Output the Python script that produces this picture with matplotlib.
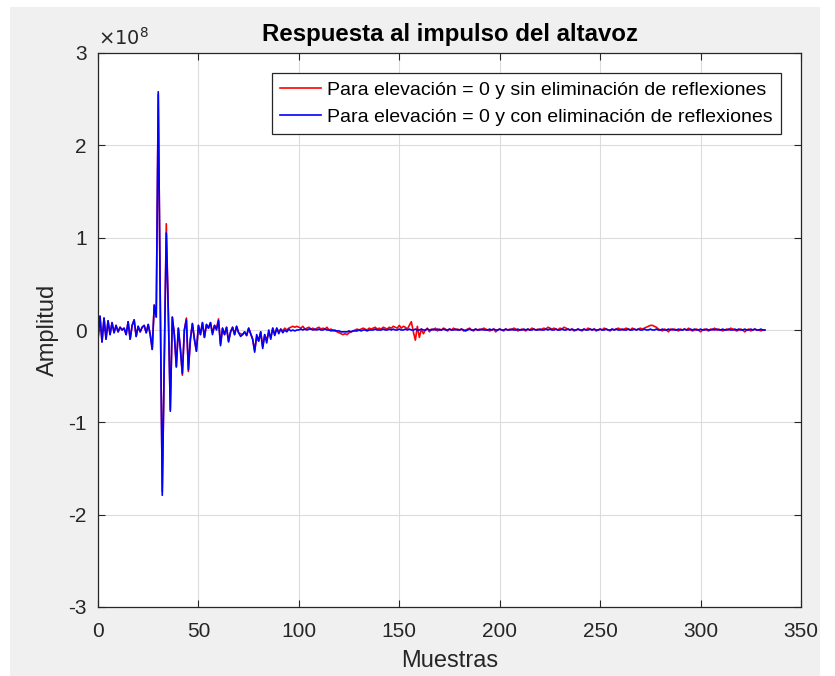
import matplotlib
matplotlib.use("Agg")
import matplotlib.pyplot as plt
import numpy as np
from matplotlib.ticker import FuncFormatter
from matplotlib.patches import Rectangle

plt.rcParams['font.family'] = ['Liberation Sans', 'DejaVu Sans']
plt.rcParams['axes.unicode_minus'] = False

# amplitudes in units of 1e6 (hundredths of 1e8), one value per sample
blue_vals = [
    -10, 15, -13, 13, -10, 10, -5, 8, -3, 5,
    -2, 3, 0, 2, -5, 9, -10, 5, 11, -7,
    4, -2, 3, 5, -3, 6, -5, -21, 27, 14,
    258, 30, -179, -30, 105, 20, -88, 14, -5, -40,
    2, -20, -47, 0, 11, -43, -10, 7, -10, -23,
    5, -5, 8, -8, 6, 2, 8, -5, 5, 0,
    10, -17, 2, -5, 3, -13, -2, 3, -5, 4,
    -3, -7, -5, -2, -6, 2, -4, -10, -24, -5,
    -12, -2, -20, -5, -14, 0, -10, 2, -6, 2,
    -4, 1, -3, 0, -2, 1, -1, 0, -1, 0,
    0, 1, 0, 1, 0, 1, 1, 0, 1, 0, 1, 0, 0, 1, 0, 0, -1, 0, -1, -1,
    -1, -2, -2, -2, -2, -1, -2, -1, -1, -1, 0, -1, 0, 0, -1, 0, 0, 0, 1, 0,
    0, 0, 1, 0, 0, 1, 0, 1, 0, 0, 1, 0, 0, 1, 0, 1, 0, 0, 1, 0,
    0, 1, 0, 0, 1, 0, 0, 1, 0, 1, 0, 0, 1, 0, 0, 1, 0, 0, 1, 0,
    0, 1, 0, -1, 0, 1, 0, 0, 1, 0, 0, 1, 0, 0, 0, 1, 0, 1, 0, 0,
    1, 0, 0, 1, 0, 0, 1, 0, 0, 1, 0, 0, 1, 0, 1, 0, 0, 1, 0, 0,
    1, 0, 0, 1, 0, 1, 0, 0, 1, 0, 0, 1, 0, 0, 1, 0, 1, 0, 0, 1,
    0, 0, 1, 0, 0, 1, 0, 1, 0, 0, 1, 0, 0, 1, 0, 0, 1, 0, 1, 0,
    0, 1, 0, 0, 1, 0, 0, 1, 0, 1, 0, 0, 1, 0, 0, 1, 0, 0, 1, 0,
    0, 1, 0, 0, 1, 0, 1, 0, 0, 1, 0, 0, 1, 0, 0, 1, 0, 1, 0, 0,
    1, 0, 0, 1, 0, 0, 1, 0, 1, 0, 0, 1, 0, 0, 1, 0, 0, 1, 0, 1,
    0, 0, 1, 0, 0, 1, 0, 1, 0, 0, 1, 0, 0,
]

red_vals = [
    -10, 15, -13, 13, -10, 10, -5, 8, -3, 5,
    -2, 3, 0, 2, -5, 9, -10, 5, 11, -7,
    4, -2, 3, 5, -3, 6, -5, -21, 27, 14,
    255, 30, -175, -35, 115, 20, -86, 14, -5, -40,
    2, -20, -49, 0, 13, -45, -10, 7, -10, -23,
    5, -5, 8, -8, 6, 2, 8, -3, 5, 2,
    12, -15, 2, -5, 3, -12, -2, 3, -5, 4,
    -3, -4, -5, -2, -6, 2, -4, -10, -22, -8,
    -12, -2, -18, -5, -11, -3, -8, 2, -5, 2,
    -2, 1, -1, 2, 0, 2, 3, 4, 3, 4,
    3, 2, 4, 1, 2, 3, 1, 2, 0, 2, 3, 1, 2, 1, 3, 0, 1, -1, 0, -2,
    -3, -4, -5, -4, -5, -3, -2, -1, 0, 1, 0, 1, 2, 1, 0, 2, 1, 2, 3, 1,
    2, 1, 3, 2, 1, 3, 2, 4, 3, 2, 5, 2, 4, 3, 1, 5, 9, -2, -11, 4,
    -8, 1, -4, 0, 2, -2, 1, 0, 2, -1, 1, 0, 2, 1, -1, 1, 0, 2, 0, 1,
    0, 1, -1, 0, 1, 2, 0, -1, 1, 0, 1, 0, 2, 1, 0, -1, 0, 1, -2, 0,
    1, 0, -1, 1, 0, 1, 0, 2, 1, -1, 0, 1, 0, -1, 1, 0, 2, 1, 0, 1,
    0, 1, 2, 1, 3, 2, 1, 2, 1, 0, 2, 1, 3, 2, 1, 0, 1, -1, 0, 1,
    0, -1, 1, 0, 2, 1, 0, 1, -1, 0, 1, 0, 2, 1, 0, -1, 1, 0, 1, 2,
    1, 0, 1, 2, 1, 0, 2, 1, 0, 1, 2, 1, 2, 3, 4, 5, 5, 4, 3, 1,
    0, -1, 1, 0, -2, 1, 0, 1, 0, -1, 1, 0, 1, 0, 2, 0, -1, 0, 1, 0,
    -2, 0, 1, 0, -1, 1, 0, 2, 0, 1, 0, -1, 0, 1, 0, 2, 1, 0, -1, 0,
    1, 0, -2, 0, 1, -1, 0, 1, 0, 0, -1, 0, 0,
]

labels = ['Para elevación = 0 y sin eliminación de reflexiones',
          'Para elevación = 0 y con eliminación de reflexiones']

red = np.array(red_vals) * 1e6
blue = np.array(blue_vals) * 1e6
n_red = np.arange(len(red))
n_blue = np.arange(len(blue))

W, H = 835, 676
fig = plt.figure(figsize=(W / 100, H / 100), dpi=100, facecolor='white')
# grey MATLAB figure area
fig.patches.append(Rectangle((10 / W, 0), 810 / W, 669 / H, transform=fig.transFigure,
                             facecolor='#f0f0f0', edgecolor='none', zorder=-10))

ax = fig.add_axes([98 / W, 1 - 607 / H, 703 / W, 554 / H])
ax.set_facecolor('white')

ax.plot(n_red, red, color='#ff0000', linewidth=1.2, label=labels[0])
ax.plot(n_blue, blue, color='#0000ff', linewidth=1.2, label=labels[1])

ax.set_xlim(0, 350)
ax.set_ylim(-3e8, 3e8)
ax.set_xticks(np.arange(0, 351, 50))
ax.set_yticks(np.arange(-3, 4) * 1e8)
ax.yaxis.set_major_formatter(FuncFormatter(lambda v, p: '%g' % (v / 1e8)))
ax.text(0.0, 1.008, r'$\times10^{8}$', transform=ax.transAxes, fontsize=14,
        color='#262626', ha='left', va='bottom')

ax.grid(True, color='#dcdcdc', linewidth=0.8)
ax.tick_params(axis='x', pad=11)
ax.tick_params(axis='y', pad=8)
ax.tick_params(direction='in', top=True, right=True, labelsize=15, length=5,
               colors='#262626')
for s in ax.spines.values():
    s.set_color('#262626')
    s.set_linewidth(0.9)

ax.set_title('Respuesta al impulso del altavoz', fontsize=17.3, fontweight='bold', pad=9)
ax.set_xlabel('Muestras', fontsize=17, color='#262626', labelpad=6)
ax.set_ylabel('Amplitud', fontsize=17, color='#262626', labelpad=7)

leg = ax.legend(loc='upper right', bbox_to_anchor=(0.972, 0.964), fontsize=14,
                fancybox=False, framealpha=1, edgecolor='#262626',
                handlelength=2.1, handletextpad=0.3, borderpad=0.45,
                labelspacing=0.45, borderaxespad=0)
leg.get_frame().set_linewidth(0.9)

fig.savefig('out.png', dpi=100, facecolor=fig.get_facecolor())
